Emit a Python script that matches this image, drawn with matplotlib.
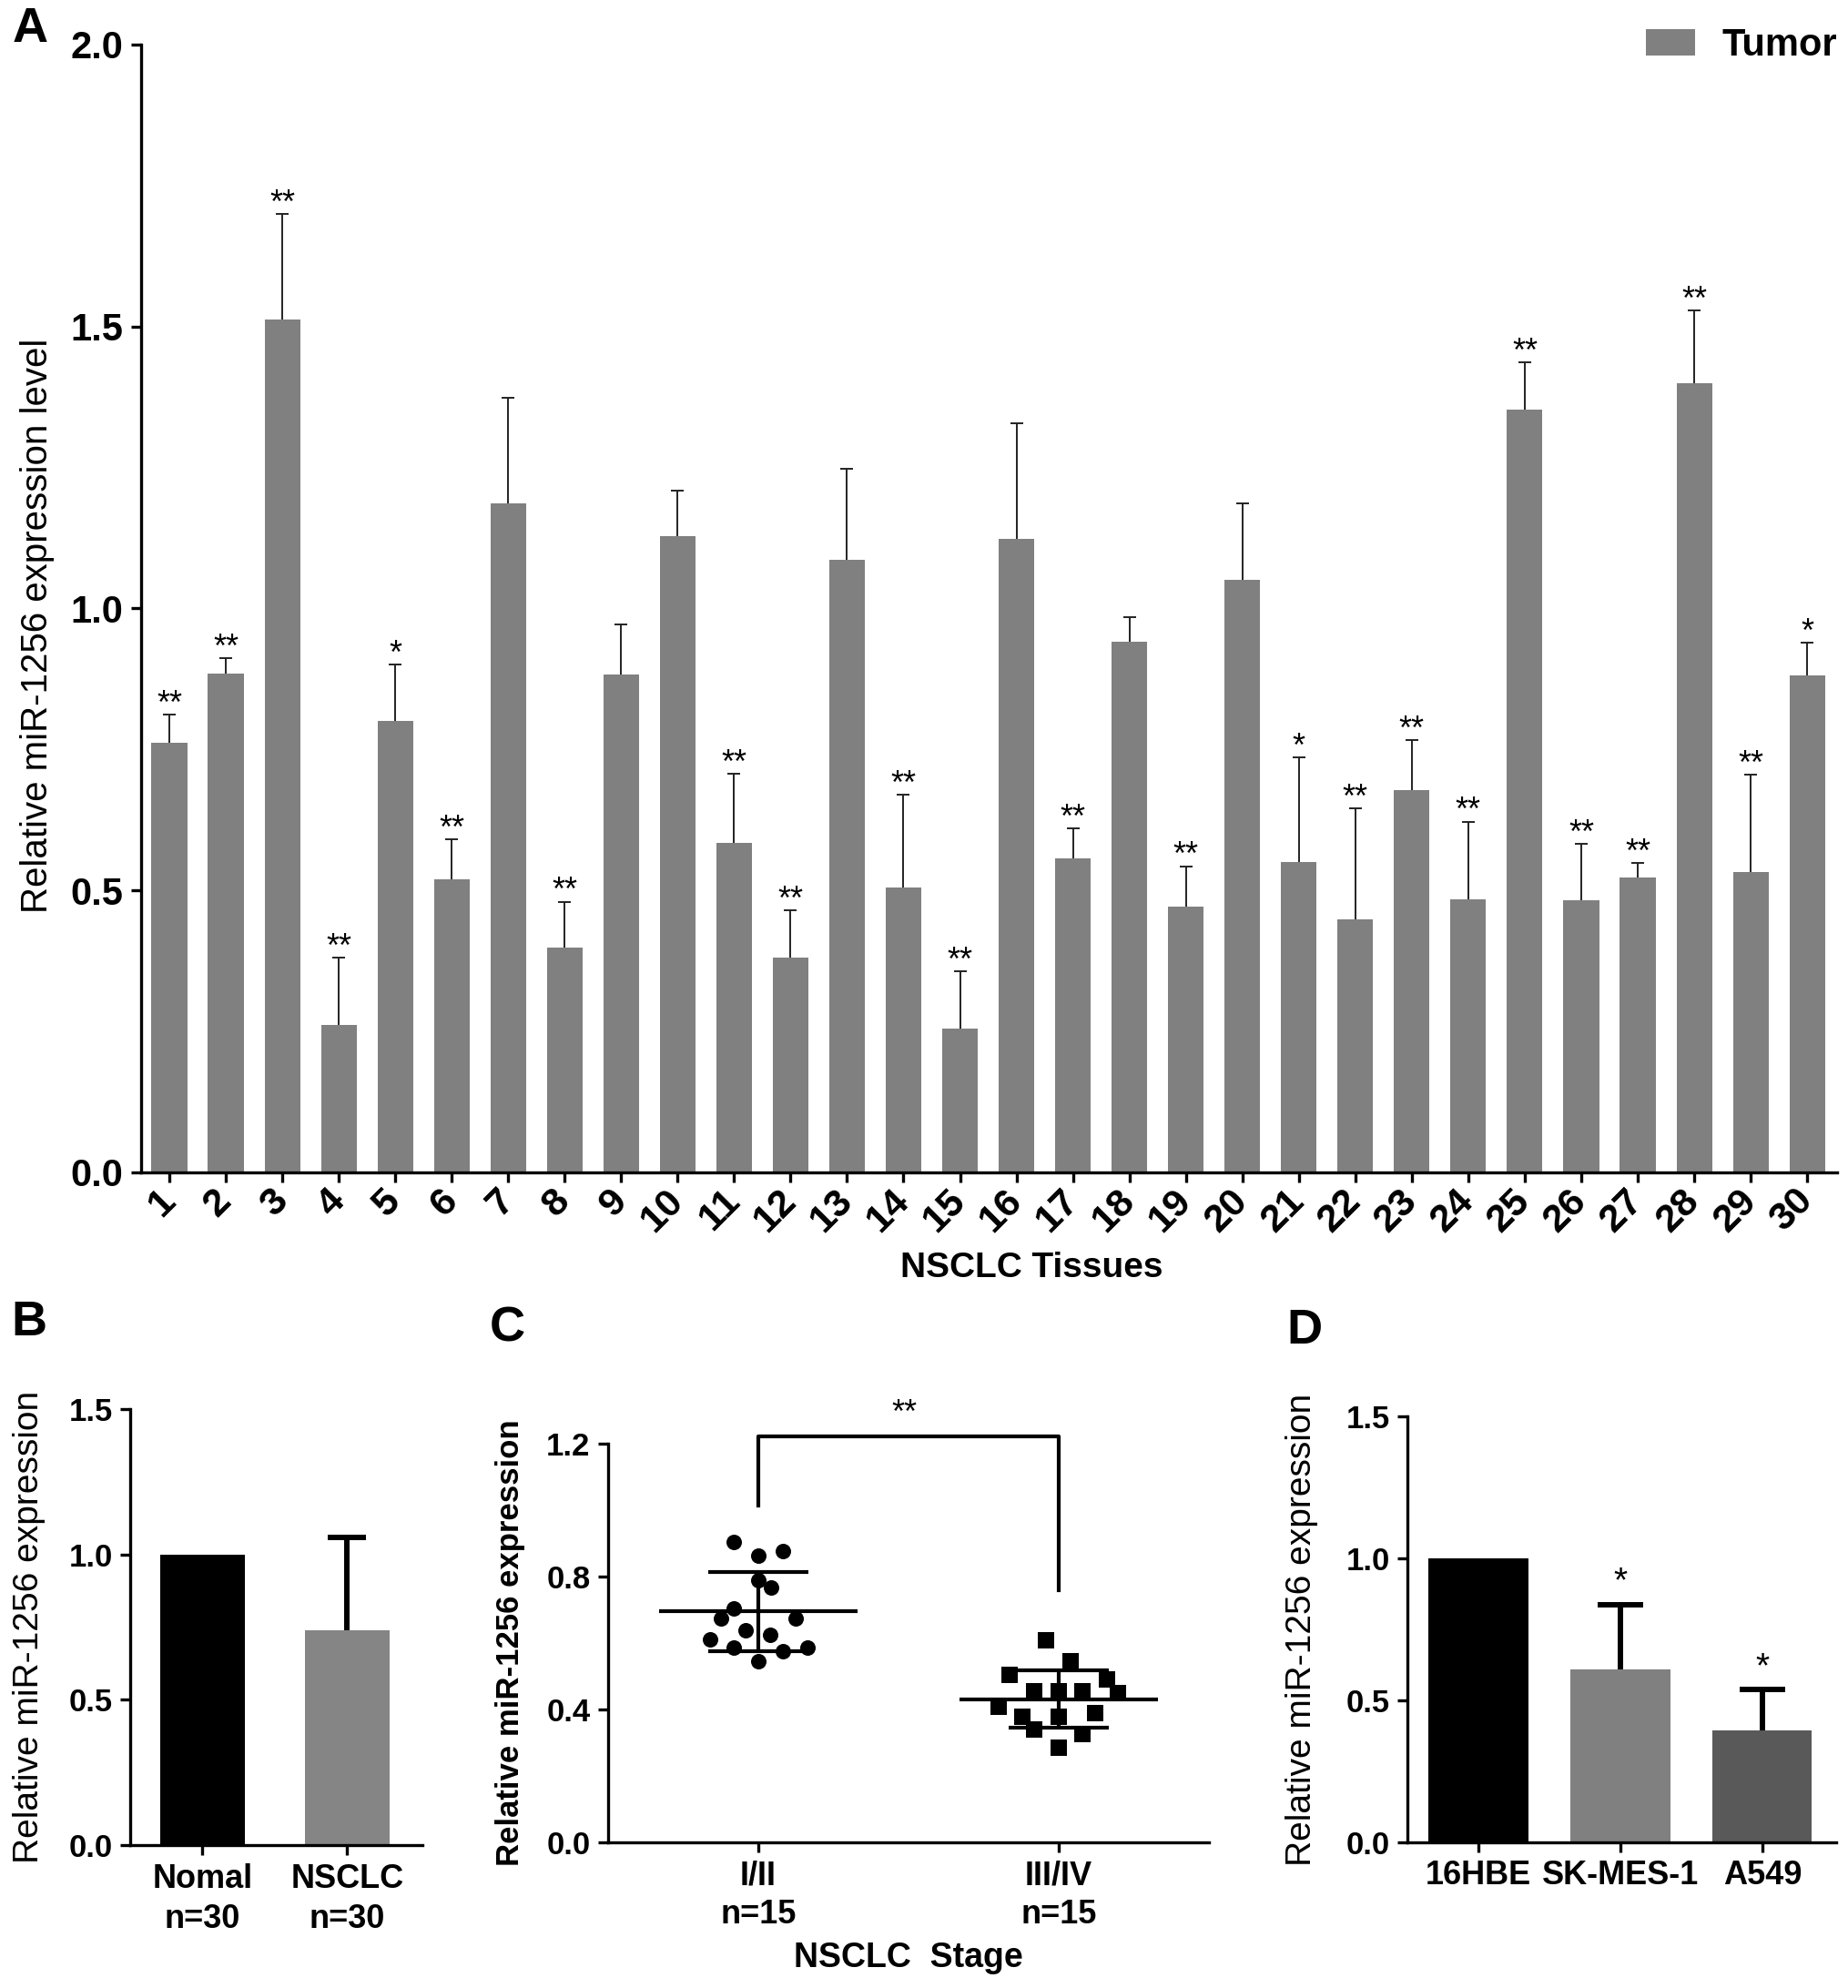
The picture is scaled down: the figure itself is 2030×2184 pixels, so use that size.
import matplotlib.pyplot as plt
import numpy as np

plt.rcParams['font.family'] = ['Liberation Sans', 'DejaVu Sans']

# ---- panel A data: 30 tumour tissues
tissues = [str(i) for i in range(1, 31)]
tumor_mean = [0.762, 0.885, 1.512, 0.261, 0.800, 0.520, 1.186, 0.399, 0.883, 1.128,
              0.585, 0.380, 1.087, 0.505, 0.255, 1.123, 0.556, 0.941, 0.471, 1.050,
              0.551, 0.448, 0.678, 0.484, 1.352, 0.482, 0.523, 1.400, 0.532, 0.881]
tumor_sd = [0.050, 0.027, 0.188, 0.119, 0.100, 0.070, 0.187, 0.081, 0.088, 0.081,
            0.122, 0.084, 0.160, 0.164, 0.102, 0.205, 0.054, 0.043, 0.072, 0.137,
            0.185, 0.197, 0.088, 0.138, 0.084, 0.101, 0.025, 0.128, 0.173, 0.058]
tumor_sig = ['**', '**', '**', '**', '*', '**', '', '**', '', '',
             '**', '**', '', '**', '**', '', '**', '', '**', '',
             '*', '**', '**', '**', '**', '**', '**', '**', '**', '*']

# ---- panel B data
b_groups = ['Nomal\nn=30', 'NSCLC\nn=30']
b_mean = [1.0, 0.739]
b_sd = [0.0, 0.319]

# ---- panel C data (stage groups, beeswarm offsets)
c_groups = ['I/II\nn=15', 'III/IV\nn=15']
stage12 = [0.905, 0.864, 0.878, 0.789, 0.767, 0.705, 0.675, 0.675, 0.638, 0.625,
           0.610, 0.586, 0.575, 0.586, 0.545]
stage12_dx = [-0.081, 0.0, 0.082, 0.0, 0.043, -0.081, -0.124, 0.124, -0.042, 0.040,
              -0.161, -0.081, 0.082, 0.164, 0.0]
stage34 = [0.607, 0.545, 0.504, 0.490, 0.456, 0.456, 0.456, 0.449, 0.408, 0.378,
           0.378, 0.388, 0.340, 0.326, 0.285]
stage34_dx = [-0.042, 0.039, -0.163, 0.160, -0.081, 0.0, 0.079, 0.198, -0.200, -0.122,
              0.0, 0.121, -0.081, 0.079, 0.0]

# ---- panel D data
d_lines = ['16HBE', 'SK-MES-1', 'A549']
d_mean = [1.0, 0.609, 0.393]
d_sd = [0.0, 0.229, 0.144]
d_sig = ['', '*', '*']

fig = plt.figure(figsize=(20.31, 21.84), dpi=100)

SPW = 2.4


def style(ax, size):
    for s in ['top', 'right']:
        ax.spines[s].set_visible(False)
    for s in ['left', 'bottom']:
        ax.spines[s].set_linewidth(SPW)
    ax.tick_params(width=SPW, length=8, labelsize=size, pad=6)
    for lab in ax.get_yticklabels() + ax.get_xticklabels():
        lab.set_fontweight('bold')


def upper_err(ax, x, m, e, color, lw, cap):
    # only the upper half of the error bar, like the original
    _, caps, _ = ax.errorbar(x, m, yerr=[np.zeros(len(x)), e], fmt='none',
                             ecolor=color, elinewidth=lw, capsize=cap,
                             capthick=lw, zorder=1)
    caps[0].set_visible(False)


# ================= A
axa = fig.add_axes([0.0763, 0.4103, 0.9173, 0.5673])
xa = np.arange(1, 31)
axa.bar(xa, tumor_mean, width=0.63, color='#808080', label='Tumor', zorder=2)
upper_err(axa, xa, tumor_mean, tumor_sd, '#222222', 1.4, 4.7)
for x, m, e, s in zip(xa, tumor_mean, tumor_sd, tumor_sig):
    if s:
        axa.text(x, m + e + 0.002, s, ha='center', va='baseline', fontsize=26)
axa.set_xlim(0.5, 30.53)
axa.set_ylim(0, 2.0)
axa.set_yticks([0.0, 0.5, 1.0, 1.5, 2.0])
axa.set_yticklabels(['0.0', '0.5', '1.0', '1.5', '2.0'])
axa.set_xticks(xa)
axa.set_xticklabels(tissues, rotation=45, ha='right', va='center', rotation_mode='anchor')
style(axa, 30)
axa.tick_params(axis='x', pad=10, labelsize=31)
axa.set_xlabel('NSCLC Tissues', fontsize=28, fontweight='bold', labelpad=10)
axa.xaxis.label.set_x(0.525)
axa.text(-0.061, 0.485, 'Relative miR-1256 expression level', transform=axa.transAxes,
         rotation=90, ha='center', va='center', fontsize=29)
axa.legend(loc='upper right', bbox_to_anchor=(1.0, 1.015), frameon=False,
           borderaxespad=0, borderpad=0, handlelength=1.3, handleheight=0.7,
           handletextpad=0.7, prop={'size': 30, 'weight': 'bold'})

# ================= B
axb = fig.add_axes([0.0704, 0.0717, 0.1581, 0.2197])
xb = np.arange(2)
axb.bar(xb, b_mean, width=0.59, color=['#000000', '#858585'], zorder=2)
upper_err(axb, xb[1:], b_mean[1:], b_sd[1:], 'black', 4.3, 15)
axb.set_xlim(-0.5, 1.52)
axb.set_ylim(0, 1.5)
axb.set_yticks([0.0, 0.5, 1.0, 1.5])
axb.set_yticklabels(['0.0', '0.5', '1.0', '1.5'])
axb.set_xticks(xb)
axb.set_xticklabels(b_groups, linespacing=1.35)
style(axb, 25)
axb.tick_params(axis='x', labelsize=26)
axb.text(-0.346, 0.5, 'Relative miR-1256 expression', transform=axb.transAxes,
         rotation=90, ha='center', va='center', fontsize=28)

# ================= C
axc = fig.add_axes([0.3289, 0.0733, 0.3250, 0.2005])
axc.scatter(0 + np.array(stage12_dx), stage12, marker='o', s=150, color='black',
            zorder=3, linewidths=0)
axc.scatter(1 + np.array(stage34_dx), stage34, marker='s', s=150, color='black',
            zorder=3, linewidths=0)
for pos, vals in [(0, stage12), (1, stage34)]:
    m = np.mean(vals)
    sd = np.std(vals, ddof=1)
    axc.hlines(m, pos - 0.33, pos + 0.33, color='black', lw=3, zorder=4)
    axc.hlines([m - sd, m + sd], pos - 0.167, pos + 0.167, color='black', lw=3, zorder=4)
    axc.vlines(pos, m - sd, m + sd, color='black', lw=3, zorder=4)
axc.plot([0, 0, 1, 1], [1.014, 1.223, 1.223, 0.758], color='black', lw=3, clip_on=False)
axc.text(0.485, 1.262, '**', ha='center', va='baseline', fontsize=26, clip_on=False)
axc.set_xlim(-0.5, 1.5)
axc.set_ylim(0, 1.2)
axc.set_yticks([0.0, 0.4, 0.8, 1.2])
axc.set_yticklabels(['0.0', '0.4', '0.8', '1.2'])
axc.set_xticks([0, 1])
axc.set_xticklabels(c_groups, linespacing=1.3)
style(axc, 25)
axc.tick_params(axis='x', labelsize=26)
axc.set_xlabel('NSCLC  Stage', fontsize=27, fontweight='bold', labelpad=8)
axc.text(-0.1636, 0.5, 'Relative miR-1256 expression', transform=axc.transAxes,
         rotation=90, ha='center', va='center', fontsize=25, fontweight='bold')

# ================= D
axd = fig.add_axes([0.7612, 0.0733, 0.2319, 0.2142])
xd = np.arange(3)
axd.bar(xd, d_mean, width=0.7, color=['#000000', '#808080', '#595959'], zorder=2)
upper_err(axd, xd[1:], d_mean[1:], d_sd[1:], 'black', 4.3, 18)
for x, m, e, s in zip(xd, d_mean, d_sd, d_sig):
    if s:
        axd.text(x, m + e + 0.045, s, ha='center', va='baseline', fontsize=28)
axd.set_xlim(-0.5, 2.52)
axd.set_ylim(0, 1.5)
axd.set_yticks([0.0, 0.5, 1.0, 1.5])
axd.set_yticklabels(['0.0', '0.5', '1.0', '1.5'])
axd.set_xticks(xd)
axd.set_xticklabels(d_lines)
style(axd, 25)
axd.tick_params(axis='x', labelsize=26)
axd.text(-0.246, 0.5, 'Relative miR-1256 expression', transform=axd.transAxes,
         rotation=90, ha='center', va='center', fontsize=28)

# panel letters
for x, y, t in [(0.0069, 0.997, 'A'), (0.0059, 0.346, 'B'),
                (0.2649, 0.343, 'C'), (0.6957, 0.342, 'D')]:
    fig.text(x, y, t, fontsize=39, fontweight='bold', ha='left', va='top')

fig.savefig('out.png', dpi=100)
